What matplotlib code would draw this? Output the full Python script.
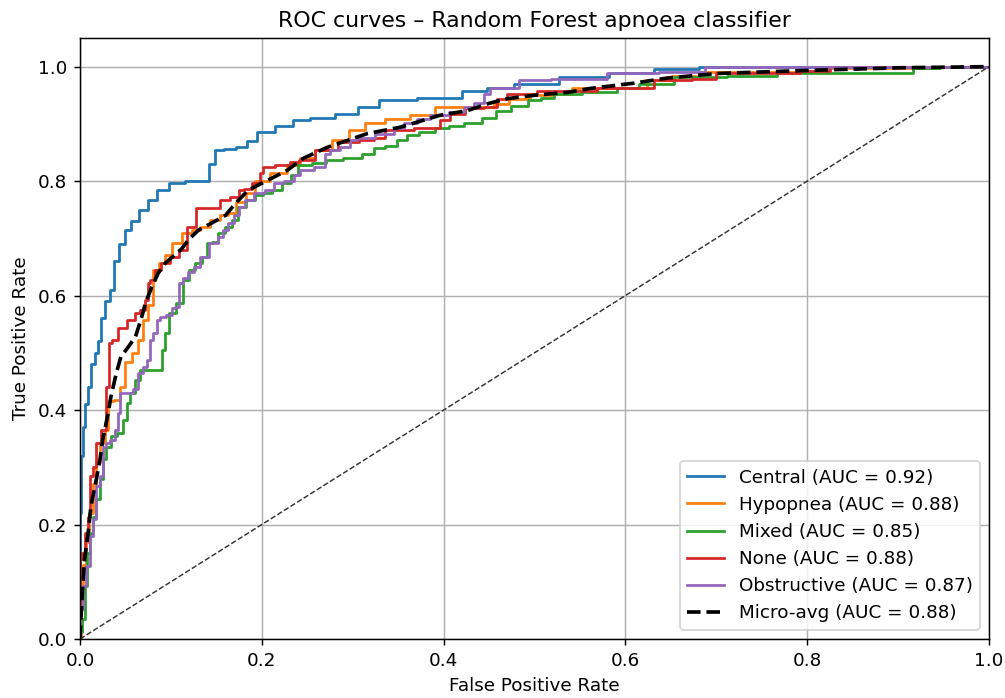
import matplotlib
matplotlib.use("Agg")
import matplotlib.pyplot as plt

# ---- data ----
central_fpr = [0, 0, 0.002, 0.004, 0.007, 0.010, 0.014, 0.018, 0.022, 0.025, 0.030, 0.035, 0.040, 0.045, 0.053, 0.060, 0.070, 0.079, 0.090, 0.105, 0.125, 0.138, 0.145, 0.152, 0.165, 0.178, 0.190, 0.200, 0.229, 0.240, 0.267, 0.295, 0.316, 0.341, 0.400, 0.440, 0.455, 0.500, 0.554, 0.609, 0.653, 0.708, 1.0]
central_tpr = [0, 0.22, 0.32, 0.37, 0.41, 0.44, 0.48, 0.50, 0.52, 0.56, 0.59, 0.61, 0.66, 0.69, 0.714, 0.73, 0.75, 0.767, 0.785, 0.796, 0.80, 0.801, 0.83, 0.854, 0.856, 0.859, 0.87, 0.885, 0.897, 0.906, 0.911, 0.918, 0.929, 0.941, 0.946, 0.958, 0.963, 0.97, 0.981, 0.988, 0.995, 1.0, 1.0]

hypo_fpr = [0, 0.002, 0.005, 0.008, 0.012, 0.016, 0.020, 0.025, 0.029, 0.033, 0.042, 0.047, 0.053, 0.062, 0.066, 0.072, 0.077, 0.083, 0.090, 0.097, 0.105, 0.119, 0.127, 0.138, 0.149, 0.160, 0.166, 0.177, 0.188, 0.198, 0.220, 0.235, 0.250, 0.268, 0.286, 0.305, 0.323, 0.349, 0.378, 0.404, 0.448, 0.463, 0.481, 0.510, 0.529, 0.554, 0.609, 0.639, 0.664, 0.700, 0.920, 0.970, 1.0]
hypo_tpr = [0, 0.08, 0.13, 0.17, 0.22, 0.27, 0.31, 0.343, 0.366, 0.415, 0.418, 0.44, 0.484, 0.50, 0.523, 0.557, 0.584, 0.645, 0.657, 0.671, 0.692, 0.709, 0.714, 0.72, 0.732, 0.74, 0.744, 0.763, 0.78, 0.801, 0.815, 0.828, 0.84, 0.854, 0.871, 0.889, 0.902, 0.909, 0.916, 0.929, 0.929, 0.935, 0.944, 0.95, 0.953, 0.962, 0.963, 0.976, 0.984, 0.99, 0.997, 1.0, 1.0]

mixed_fpr = [0, 0.001, 0.003, 0.007, 0.009, 0.012, 0.016, 0.020, 0.023, 0.027, 0.031, 0.038, 0.044, 0.050, 0.053, 0.056, 0.064, 0.067, 0.089, 0.091, 0.095, 0.101, 0.110, 0.116, 0.123, 0.130, 0.138, 0.141, 0.149, 0.155, 0.163, 0.171, 0.177, 0.188, 0.196, 0.206, 0.217, 0.228, 0.237, 0.242, 0.268, 0.273, 0.305, 0.316, 0.330, 0.341, 0.356, 0.363, 0.382, 0.400, 0.411, 0.433, 0.452, 0.463, 0.485, 0.500, 0.514, 0.529, 0.576, 0.606, 0.624, 0.683, 0.741, 0.793, 0.911, 0.922, 0.970, 1.0]
mixed_tpr = [0, 0.012, 0.035, 0.092, 0.15, 0.186, 0.214, 0.244, 0.279, 0.314, 0.336, 0.354, 0.36, 0.383, 0.413, 0.43, 0.453, 0.47, 0.47, 0.505, 0.535, 0.57, 0.587, 0.627, 0.645, 0.657, 0.667, 0.692, 0.693, 0.709, 0.72, 0.732, 0.754, 0.767, 0.775, 0.779, 0.784, 0.796, 0.81, 0.828, 0.831, 0.836, 0.841, 0.848, 0.857, 0.862, 0.871, 0.88, 0.885, 0.892, 0.897, 0.902, 0.911, 0.923, 0.932, 0.941, 0.946, 0.953, 0.955, 0.962, 0.97, 0.981, 0.984, 0.988, 0.988, 0.997, 1.0, 1.0]

none_fpr = [0, 0.001, 0.003, 0.007, 0.011, 0.012, 0.016, 0.020, 0.027, 0.031, 0.033, 0.038, 0.046, 0.057, 0.063, 0.069, 0.074, 0.075, 0.080, 0.085, 0.094, 0.105, 0.112, 0.124, 0.132, 0.151, 0.157, 0.173, 0.176, 0.184, 0.195, 0.200, 0.202, 0.228, 0.235, 0.246, 0.270, 0.297, 0.316, 0.330, 0.341, 0.393, 0.400, 0.415, 0.433, 0.455, 0.463, 0.477, 0.529, 0.609, 0.653, 0.694, 0.705, 0.785, 0.800, 0.850, 1.0]
none_tpr = [0, 0.139, 0.15, 0.186, 0.214, 0.284, 0.301, 0.343, 0.366, 0.441, 0.517, 0.523, 0.544, 0.557, 0.57, 0.575, 0.592, 0.622, 0.627, 0.645, 0.657, 0.667, 0.679, 0.72, 0.753, 0.753, 0.767, 0.772, 0.784, 0.787, 0.796, 0.815, 0.824, 0.828, 0.833, 0.836, 0.854, 0.868, 0.871, 0.876, 0.889, 0.892, 0.906, 0.918, 0.927, 0.929, 0.944, 0.953, 0.958, 0.963, 0.977, 0.979, 0.988, 0.988, 0.993, 1.0, 1.0]

obst_fpr = [0, 0.001, 0.005, 0.009, 0.012, 0.016, 0.020, 0.023, 0.027, 0.031, 0.036, 0.040, 0.044, 0.045, 0.055, 0.062, 0.066, 0.072, 0.075, 0.078, 0.083, 0.086, 0.090, 0.099, 0.103, 0.107, 0.110, 0.116, 0.121, 0.129, 0.134, 0.149, 0.155, 0.160, 0.166, 0.172, 0.177, 0.185, 0.198, 0.209, 0.217, 0.231, 0.239, 0.246, 0.268, 0.272, 0.279, 0.294, 0.301, 0.308, 0.341, 0.349, 0.363, 0.378, 0.393, 0.419, 0.426, 0.440, 0.448, 0.455, 0.481, 0.485, 0.551, 0.609, 0.664, 0.712, 1.0]
obst_tpr = [0, 0.052, 0.092, 0.127, 0.18, 0.209, 0.267, 0.284, 0.336, 0.343, 0.348, 0.366, 0.395, 0.43, 0.43, 0.436, 0.465, 0.476, 0.488, 0.523, 0.535, 0.557, 0.563, 0.566, 0.578, 0.58, 0.622, 0.631, 0.641, 0.65, 0.667, 0.692, 0.702, 0.714, 0.726, 0.74, 0.754, 0.767, 0.779, 0.784, 0.796, 0.801, 0.81, 0.819, 0.824, 0.848, 0.854, 0.859, 0.871, 0.876, 0.883, 0.892, 0.901, 0.909, 0.915, 0.92, 0.929, 0.937, 0.953, 0.963, 0.963, 0.976, 0.979, 0.988, 0.99, 1.0, 1.0]

micro_fpr = [0, 0.001, 0.003, 0.005, 0.009, 0.012, 0.018, 0.022, 0.025, 0.031, 0.034, 0.040, 0.045, 0.053, 0.061, 0.068, 0.072, 0.079, 0.086, 0.094, 0.105, 0.112, 0.119, 0.130, 0.144, 0.160, 0.171, 0.185, 0.191, 0.206, 0.228, 0.246, 0.272, 0.294, 0.316, 0.352, 0.396, 0.426, 0.448, 0.470, 0.500, 0.536, 0.562, 0.609, 0.646, 0.701, 0.793, 0.903, 1.0]
micro_tpr = [0, 0.035, 0.092, 0.139, 0.186, 0.232, 0.279, 0.314, 0.348, 0.395, 0.423, 0.465, 0.493, 0.51, 0.528, 0.563, 0.587, 0.615, 0.639, 0.657, 0.672, 0.682, 0.697, 0.714, 0.726, 0.74, 0.761, 0.784, 0.789, 0.801, 0.819, 0.84, 0.859, 0.871, 0.883, 0.894, 0.915, 0.923, 0.935, 0.944, 0.95, 0.955, 0.962, 0.971, 0.98, 0.988, 0.993, 0.998, 1.0]

class_names = ["Central", "Hypopnea", "Mixed", "None", "Obstructive"]
class_auc = [0.92, 0.88, 0.85, 0.88, 0.87]
micro_auc = 0.88

curves = [(central_fpr, central_tpr), (hypo_fpr, hypo_tpr), (mixed_fpr, mixed_tpr),
          (none_fpr, none_tpr), (obst_fpr, obst_tpr)]
colors = ["#1f77b4", "#ff7f0e", "#2ca02c", "#d62728", "#9467bd"]

DPI = 132
fig = plt.figure(figsize=(1005 / DPI, 698 / DPI), dpi=DPI)
ax = fig.add_axes([80/1005, 1 - 639/698, (989-80)/1005, (639-38)/698])

for (f, t), name, auc, c in zip(curves, class_names, class_auc, colors):
    ax.plot(f, t, color=c, lw=1.5, drawstyle="steps-mid",
            label=f"{name} (AUC = {auc:.2f})")

ax.plot(micro_fpr, micro_tpr, "k--", lw=2, label=f"Micro-avg (AUC = {micro_auc:.2f})")
ax.plot([0, 1], [0, 1], "--", color="#333333", lw=0.8)

ax.set_xlim(0, 1)
ax.set_ylim(0, 1.05)
ax.set_xlabel("False Positive Rate")
ax.set_ylabel("True Positive Rate")
ax.set_title("ROC curves – Random Forest apnoea classifier")
ax.legend(loc="lower right")
ax.grid(True)

fig.savefig("out.png", dpi=DPI)
